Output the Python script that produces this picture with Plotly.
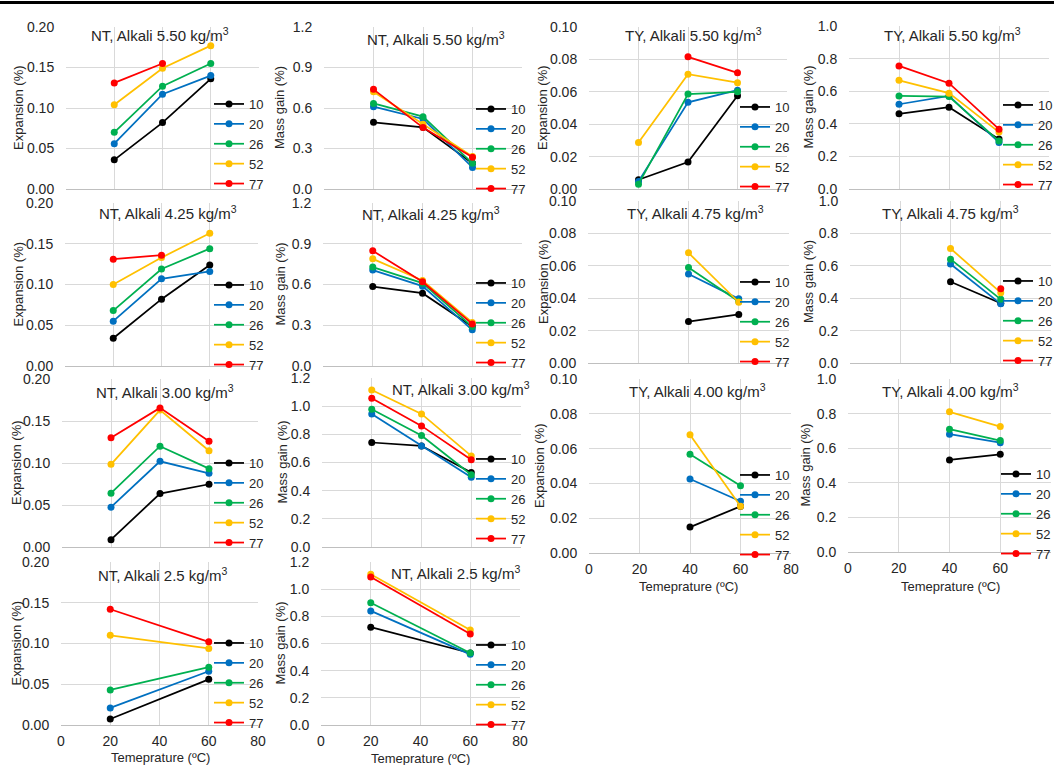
import plotly.graph_objects as go

# ---------------- data ----------------
temps = [20, 40, 60]
series = ["10", "20", "26", "52", "77"]
colors = ["#000000", "#0070C0", "#00B050", "#FFC000", "#FF0000"]

NT_550_EXP = {"10": [0.036, 0.082, 0.136], "20": [0.056, 0.117, 0.140], "26": [0.070, 0.127, 0.155],
              "52": [0.104, 0.149, 0.177], "77": [0.131, 0.155, None]}
NT_550_MASS = {"10": [0.494, 0.457, 0.19], "20": [0.61, 0.519, 0.16], "26": [0.634, 0.536, 0.19],
               "52": [0.72, 0.48, 0.241], "77": [0.738, 0.455, 0.235]}
TY_550_EXP = {"10": [0.0057, 0.0166, 0.0576], "20": [0.0047, 0.0535, 0.061], "26": [0.003, 0.0586, 0.060],
              "52": [0.0287, 0.0709, 0.0656], "77": [None, 0.0816, 0.0717]}
TY_550_MASS = {"10": [0.461, 0.502, 0.306], "20": [0.52, 0.571, 0.286], "26": [0.571, 0.567, 0.294],
               "52": [0.667, 0.588, 0.349], "77": [0.755, 0.649, 0.367]}

NT_425_EXP = {"10": [0.034, 0.082, 0.124], "20": [0.055, 0.107, 0.116], "26": [0.068, 0.119, 0.144],
              "52": [0.100, 0.133, 0.163], "77": [0.131, 0.136, None]}
NT_425_MASS = {"10": [0.585, 0.536, 0.29], "20": [0.706, 0.588, 0.266], "26": [0.728, 0.61, 0.29],
               "52": [0.789, 0.63, 0.32], "77": [0.848, 0.62, 0.31]}
TY_475_EXP = {"10": [None, 0.0256, 0.030], "20": [None, 0.0549, 0.0396], "26": [None, 0.059, 0.038],
              "52": [None, 0.068, 0.0375], "77": [None, None, None]}
TY_475_MASS = {"10": [None, 0.502, 0.369], "20": [None, 0.611, 0.365], "26": [None, 0.641, 0.393],
               "52": [None, 0.707, 0.434], "77": [None, None, 0.459]}

NT_300_EXP = {"10": [0.0087, 0.0636, 0.0747], "20": [0.0474, 0.102, 0.0877], "26": [0.064, 0.120, 0.0933],
              "52": [0.0984, 0.163, 0.1146], "77": [0.130, 0.1656, 0.126]}
NT_300_MASS = {"10": [0.742, 0.718, 0.529], "20": [0.945, 0.718, 0.496], "26": [0.978, 0.791, 0.513],
               "52": [1.115, 0.945, 0.647], "77": [1.056, 0.860, 0.619]}
TY_400_EXP = {"10": [None, 0.0149, 0.0268], "20": [None, 0.0425, 0.0297], "26": [None, 0.0567, 0.0387],
              "52": [None, 0.068, 0.0268], "77": [None, None, None]}
TY_400_MASS = {"10": [None, 0.532, 0.565], "20": [None, 0.681, 0.632], "26": [None, 0.71, 0.644],
               "52": [None, 0.81, 0.725], "77": [None, None, None]}

NT_250_EXP = {"10": [0.0074, None, 0.056], "20": [0.021, None, 0.066], "26": [0.043, None, 0.071],
              "52": [0.110, None, 0.094], "77": [0.142, None, 0.102]}
NT_250_MASS = {"10": [0.72, None, 0.53], "20": [0.84, None, 0.52], "26": [0.90, None, 0.53],
               "52": [1.11, None, 0.70], "77": [1.09, None, 0.67]}

# ---------------- layout config ----------------
W, H = 1054, 765
FONT = "Liberation Sans, Arial, sans-serif"
TXT = "#262626"

def fx(x):
    return x / W

def fy(y):
    return 1 - y / H

# axis kinds: (range max, dtick, format, title)
KINDS = {
    "nt_exp": (0.20, 0.05, ".2f", "Expansion (%)"),
    "nt_mass3": (1.2, 0.3, ".1f", "Mass gain (%)"),
    "nt_mass2": (1.2, 0.2, ".1f", "Mass gain (%)"),
    "ty_exp": (0.10, 0.02, ".2f", "Expansion (%)"),
    "ty_mass": (1.0, 0.2, ".1f", "Mass gain (%)"),
}

# (data, kind, title, x0, x1, ytop, ybot, show x labels, title cx, title cy, legend text x, legend first y, ytitle x)
panels = [
    (NT_550_EXP, "nt_exp", "NT, Alkali 5.50 kg/m<sup>3</sup>", 66, 259, 27, 189, False, 160, 35, 249, 112, 19),
    (NT_550_MASS, "nt_mass3", "NT, Alkali 5.50 kg/m<sup>3</sup>", 324, 522, 27, 189, False, 436, 38, 511, 117, 280),
    (TY_550_EXP, "ty_exp", "TY, Alkali 5.50 kg/m<sup>3</sup>", 589, 787, 27, 189, False, 693, 35, 775, 115, 543),
    (TY_550_MASS, "ty_mass", "TY, Alkali 5.50 kg/m<sup>3</sup>", 849, 1049, 26, 189, False, 952, 35, 1038, 113, 808),
    (NT_425_EXP, "nt_exp", "NT, Alkali 4.25 kg/m<sup>3</sup>", 65, 258, 203, 366, False, 168, 212, 249, 293, 18),
    (NT_425_MASS, "nt_mass3", "NT, Alkali 4.25 kg/m<sup>3</sup>", 323, 522, 203, 366, False, 431, 213, 511, 291, 280),
    (TY_475_EXP, "ty_exp", "TY, Alkali 4.75 kg/m<sup>3</sup>", 588, 789, 201, 363, False, 695, 212, 775, 290, 543),
    (TY_475_MASS, "ty_mass", "TY, Alkali 4.75 kg/m<sup>3</sup>", 850, 1051, 201, 363, False, 950, 212, 1038, 289, 808),
    (NT_300_EXP, "nt_exp", "NT, Alkali 3.00 kg/m<sup>3</sup>", 62, 258, 379, 547, False, 165, 392, 249, 471, 17),
    (NT_300_MASS, "nt_mass2", "NT, Alkali 3.00 kg/m<sup>3</sup>", 322, 521, 378, 547, False, 461, 388, 511, 467, 282),
    (TY_400_EXP, "ty_exp", "TY, Alkali 4.00 kg/m<sup>3</sup>", 589, 791, 379, 553, True, 697, 391, 775, 483, 540),
    (TY_400_MASS, "ty_mass", "TY, Alkali 4.00 kg/m<sup>3</sup>", 848, 1051, 379, 552, True, 950, 391, 1036, 482, 805),
    (NT_250_EXP, "nt_exp", "NT, Alkali 2.5 kg/m<sup>3</sup>", 61, 258, 562, 725, True, 162, 574, 249, 651, 16),
    (NT_250_MASS, "nt_mass2", "NT, Alkali 2.5 kg/m<sup>3</sup>", 321, 520, 562, 725, True, 455, 572, 511, 653, 280),
]

XTITLE = "Temeprature (ºC)"
xtitle_pos = [(688, 586), (950, 586), (160, 757), (420, 758)]

fig = go.Figure()
layout = dict(
    width=W, height=H,
    margin=dict(l=0, r=0, t=0, b=0, autoexpand=False),
    paper_bgcolor="white", plot_bgcolor="white",
    font=dict(family=FONT, size=14, color=TXT),
    annotations=[], shapes=[],
)

for i, (data, kind, title, x0, x1, yt, yb, showx, tcx, tcy, lgx, lgy, ytx) in enumerate(panels):
    n = i + 1
    xa = "x" if n == 1 else f"x{n}"
    ya = "y" if n == 1 else f"y{n}"
    lg = "legend" if n == 1 else f"legend{n}"
    ymax, dtick, fmt, ytitle = KINDS[kind]
    for s, c in zip(series, colors):
        fig.add_trace(go.Scatter(
            x=temps, y=data[s], name=s, mode="lines+markers",
            line=dict(color=c, width=1.75), marker=dict(color=c, size=7),
            xaxis=xa, yaxis=ya, legend=lg, connectgaps=True, cliponaxis=False,
        ))
    layout["xaxis" if n == 1 else f"xaxis{n}"] = dict(
        domain=[fx(x0), fx(x1)], anchor=ya, range=[0, 80], dtick=20,
        showgrid=True, gridcolor="#d9d9d9", gridwidth=1, zeroline=False,
        showline=True, linecolor="#bfbfbf", linewidth=1,
        showticklabels=showx, ticks="outside", ticklen=3, tickcolor="rgba(0,0,0,0)",
        tickfont=dict(size=14, color=TXT, family=FONT),
    )
    layout["yaxis" if n == 1 else f"yaxis{n}"] = dict(
        domain=[fy(yb), fy(yt)], anchor=xa, range=[0, ymax], dtick=dtick,
        tickformat=fmt, showgrid=True, gridcolor="#d9d9d9", gridwidth=1,
        zeroline=False, showline=False, ticks="outside", ticklen=8,
        tickcolor="rgba(0,0,0,0)",
        tickfont=dict(size=14, color=TXT, family=FONT),
    )
    layout[lg] = dict(
        x=fx(lgx - 40), y=fy(lgy - 23), xanchor="left", yanchor="top",
        xref="paper", yref="paper", bgcolor="rgba(0,0,0,0)", borderwidth=0,
        font=dict(size=13, color=TXT, family=FONT), tracegroupgap=0,
    )
    layout["annotations"].append(dict(
        text=title, x=fx(tcx), y=fy(tcy), xref="paper", yref="paper",
        xanchor="center", yanchor="middle", showarrow=False,
        font=dict(size=15, color=TXT, family=FONT),
    ))
    layout["annotations"].append(dict(
        text=ytitle, x=fx(ytx), y=fy((yt + yb) / 2), xref="paper", yref="paper",
        xanchor="center", yanchor="middle", showarrow=False, textangle=-90,
        font=dict(size=13, color=TXT, family=FONT),
    ))

for (cx, cy) in xtitle_pos:
    layout["annotations"].append(dict(
        text=XTITLE, x=fx(cx), y=fy(cy), xref="paper", yref="paper",
        xanchor="center", yanchor="middle", showarrow=False,
        font=dict(size=13, color=TXT, family=FONT),
    ))

layout["shapes"].append(dict(
    type="line", xref="paper", yref="paper", x0=0, x1=1, y0=fy(2.5), y1=fy(2.5),
    line=dict(color="black", width=3),
))

fig.update_layout(**layout)
fig.write_html(
    "out.html",
    config={"displayModeBar": False},
    post_script="document.body.style.margin='0px';document.body.style.overflow='hidden';",
)
